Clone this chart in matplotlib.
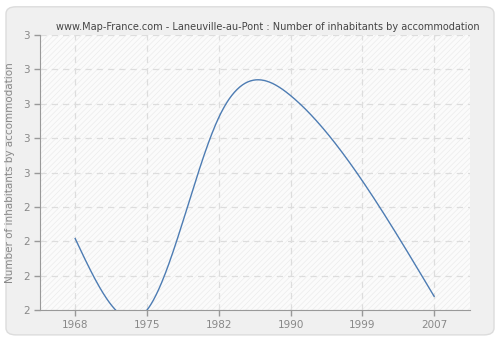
import numpy as np
import matplotlib
matplotlib.use("Agg")
import matplotlib.pyplot as plt
from matplotlib.patches import FancyBboxPatch, Rectangle

years = ["1968", "1975", "1982", "1990", "1999", "2007"]
values = [2.26, 2.0, 2.70, 2.78, 2.47, 2.05]
y_ticks = [2.0, 2.125, 2.25, 2.375, 2.5, 2.625, 2.75, 2.875, 3.0]
y_labels = ["2", "2", "2", "2", "3", "3", "3", "3", "3"]


def natural_spline(x, y, n=400):
    # plain natural cubic spline, no scipy needed
    x = np.asarray(x, float)
    y = np.asarray(y, float)
    k = len(x)
    h = np.diff(x)
    A = np.zeros((k, k))
    r = np.zeros(k)
    A[0, 0] = A[-1, -1] = 1
    for i in range(1, k - 1):
        A[i, i - 1] = h[i - 1]
        A[i, i] = 2 * (h[i - 1] + h[i])
        A[i, i + 1] = h[i]
        r[i] = 3 * ((y[i + 1] - y[i]) / h[i] - (y[i] - y[i - 1]) / h[i - 1])
    c = np.linalg.solve(A, r)
    xs = np.linspace(x[0], x[-1], n)
    ys = np.empty_like(xs)
    for j, xv in enumerate(xs):
        i = min(np.searchsorted(x, xv, side="right") - 1, k - 2)
        b = (y[i + 1] - y[i]) / h[i] - h[i] * (2 * c[i] + c[i + 1]) / 3
        d = (c[i + 1] - c[i]) / (3 * h[i])
        t = xv - x[i]
        ys[j] = y[i] + b * t + c[i] * t ** 2 + d * t ** 3
    return xs, ys


fig = plt.figure(figsize=(5, 3.4), dpi=100)
fig.patch.set_facecolor("white")
bg = FancyBboxPatch((0.012, 0.015), 0.976, 0.965, boxstyle="round,pad=0,rounding_size=0.02",
                    transform=fig.transFigure, facecolor="#f0f0f0", edgecolor="#dcdcdc",
                    linewidth=1, zorder=-10)
fig.patches.append(bg)

ax = fig.add_axes([0.08, 0.088, 0.86, 0.809], zorder=1)
ax.set_facecolor("#fbfbfb")
plt.rcParams["hatch.linewidth"] = 0.5
ax.add_patch(Rectangle((0, 0), 1, 1, transform=ax.transAxes, facecolor="none",
                       edgecolor="#ececec", hatch="//////", linewidth=0, zorder=0))

pos = np.arange(len(years))
xs, ys = natural_spline(pos, values)
ax.plot(xs, ys, color="#4d7cb3", linewidth=1, zorder=3)

ax.set_xlim(-0.49, 5.5)
ax.set_ylim(2.0, 3.0)
ax.set_xticks(pos)
ax.set_xticklabels(years)
ax.set_yticks(y_ticks)
ax.set_yticklabels(y_labels)

ax.grid(True, color="#dddddd", linestyle=(0, (5, 4)), linewidth=0.9)
ax.set_axisbelow(True)
for s in ["top", "right"]:
    ax.spines[s].set_visible(False)
for s in ["left", "bottom"]:
    ax.spines[s].set_color("#999999")
ax.tick_params(colors="#999999", labelcolor="#888888", labelsize=7.5, length=4, width=1)

ax.set_ylabel("Number of inhabitants by accommodation", color="#888888", fontsize=7.5, labelpad=6)
fig.text(0.535, 0.905, "www.Map-France.com - Laneuville-au-Pont : Number of inhabitants by accommodation",
         ha="center", va="bottom", fontsize=7, color="#444444")

fig.savefig("out.png", dpi=100, facecolor=fig.get_facecolor())
